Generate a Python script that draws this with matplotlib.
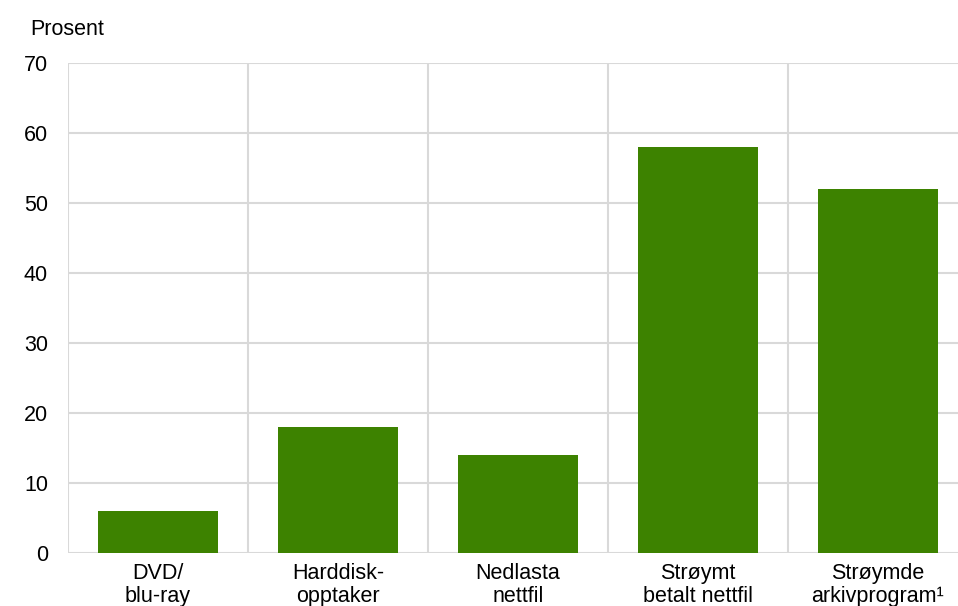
import matplotlib.pyplot as plt

plt.rcParams['font.family'] = ['Liberation Sans', 'DejaVu Sans']

categories = ['DVD/\nblu-ray', 'Harddisk-\nopptaker', 'Nedlasta\nnettfil',
              'Strøymt\nbetalt nettfil', 'Strøymde\narkivprogram¹']
values = [6, 18, 14, 58, 52]
yticks = [0, 10, 20, 30, 40, 50, 60, 70]

green = '#3d8200'
grid = '#d9d9d9'
fs = 15.5

fig = plt.figure(figsize=(9.58, 6.06), dpi=100)
ax = fig.add_axes([68 / 958, 1 - 553 / 606, 1 - 68 / 958, (553 - 63) / 606])

x = list(range(len(categories)))
ax.bar(x, values, width=0.667, color=green, zorder=3)

# horizontal grid
for y in yticks:
    ax.axhline(y, color=grid, lw=1.5, zorder=1)
# vertical separators between categories
for b in range(len(categories)):
    ax.axvline(b - 0.5, color=grid, lw=1.5, zorder=1)

ax.set_xlim(-0.5, len(categories) - 0.5 - 10 / 180)
ax.set_ylim(0, 70)
ax.set_yticks(yticks)
ax.set_xticks(x)
ax.set_xticklabels(categories, fontsize=fs, linespacing=1.12)
ax.tick_params(axis='y', labelsize=fs, length=0, pad=14.4)
ax.tick_params(axis='x', length=0, pad=7)
for s in ax.spines.values():
    s.set_visible(False)

fig.text(30 / 958, 1 - 29.5 / 606, 'Prosent', fontsize=fs, va='center', ha='left')

fig.savefig('out.png', dpi=100)
